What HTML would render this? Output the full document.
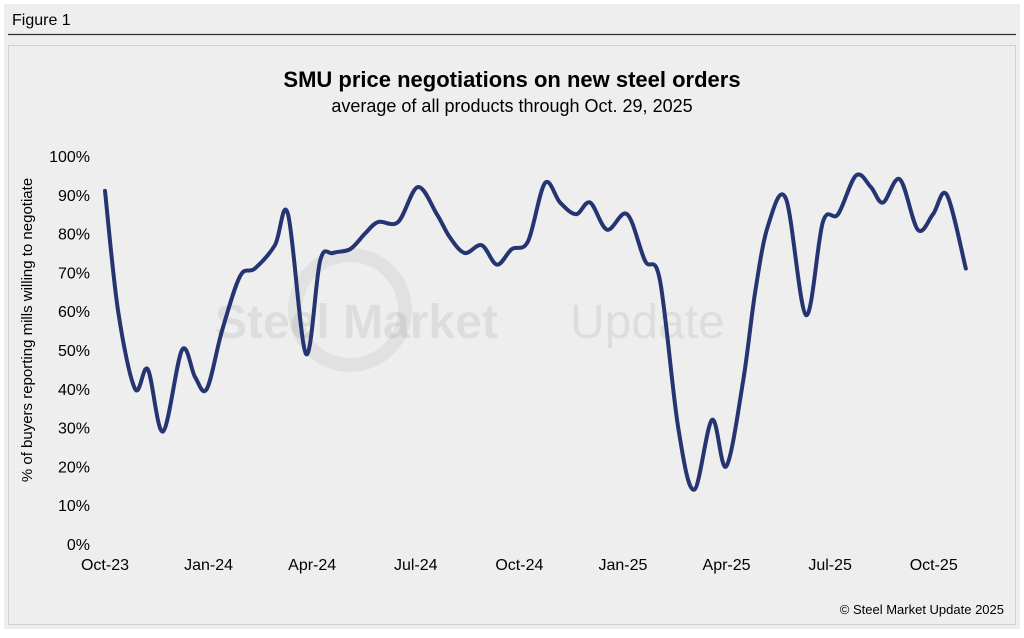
<!DOCTYPE html>
<html><head><meta charset="utf-8"><style>
body{margin:0;width:1024px;height:633px;background:#fff;font-family:"Liberation Sans",Arial,sans-serif;overflow:hidden}
</style></head><body>
<svg width="1024" height="633" xmlns="http://www.w3.org/2000/svg">
<rect x="0" y="0" width="1024" height="633" fill="#ffffff"/>
<rect x="4" y="4" width="1016" height="625" fill="#eeeeee"/>
<text x="12" y="25" font-size="16" fill="#000">Figure 1</text>
<line x1="8" y1="34.5" x2="1016" y2="34.5" stroke="#333" stroke-width="1.2"/>
<rect x="8.5" y="45.5" width="1007" height="579" fill="#eeeeee" stroke="#d0d0d0"/>
<text x="512" y="87" text-anchor="middle" font-size="22" font-weight="bold" fill="#000">SMU price negotiations on new steel orders</text>
<text x="512" y="112" text-anchor="middle" font-size="18" fill="#000">average of all products through Oct. 29, 2025</text>
<g>
<circle cx="350" cy="310" r="55" fill="none" stroke="#000" stroke-opacity="0.05" stroke-width="14"/>
<text x="215" y="338" font-size="48" font-weight="bold" fill="#000" fill-opacity="0.07">Steel Market</text>
<text x="570" y="338" font-size="48" fill="#000" fill-opacity="0.07">Update</text>
</g>
<text x="32" y="330" transform="rotate(-90 32 330)" text-anchor="middle" font-size="15" fill="#000">% of buyers reporting mills willing to negotiate</text>
<g id="yticks"></g>
<g id="xticks"></g>
<path id="line" fill="none" stroke="#263572" stroke-width="4" stroke-linejoin="round" stroke-linecap="round"/>
<text x="1004" y="614" text-anchor="end" font-size="13" fill="#000">© Steel Market Update 2025</text>
</svg>
<script>
const monthOffsets=[0,0.38,0.87,1.24,1.68,2.23,2.61,2.95,3.39,3.91,4.34,4.92,5.30,5.82,6.23,6.60,7.10,7.53,7.91,8.49,9.06,9.61,9.99,10.42,10.91,11.35,11.78,12.25,12.74,13.18,13.64,14.05,14.54,15.12,15.64,16.07,16.60,17.06,17.58,17.99,18.48,18.83,19.20,19.72,20.30,20.79,21.23,21.75,22.18,22.53,23.02,23.54,23.98,24.38,24.93];
const values=[91,60,40,45,29,50,43,40,55,69,71,77,85,49,73,75,76,80,83,83,92,85,79,75,77,72,76,78,93,88,85,88,81,85,73,68,30,14,32,20,42,65,82,89,59,83,85,95,92,88,94,81,85,90,71];
const yTickValues=[0,10,20,30,40,50,60,70,80,90,100];
const xTickLabels=["Oct-23","Jan-24","Apr-24","Jul-24","Oct-24","Jan-25","Apr-25","Jul-25","Oct-25"];
const xTickMonths=[0,3,6,9,12,15,18,21,24];
const X=m=>105+m*34.53, Y=v=>544-v*3.88;
const NS="http://www.w3.org/2000/svg";
const yg=document.getElementById('yticks');
yTickValues.forEach(v=>{const t=document.createElementNS(NS,'text');t.setAttribute('x',90);t.setAttribute('y',Y(v)+6);t.setAttribute('text-anchor','end');t.setAttribute('font-size','16');t.textContent=v+'%';


yg.appendChild(t);});
const xg=document.getElementById('xticks');
xTickLabels.forEach((l,i)=>{const t=document.createElementNS(NS,'text');t.setAttribute('x',X(xTickMonths[i]));t.setAttribute('y',570);t.setAttribute('text-anchor','middle');t.setAttribute('font-size','16');t.textContent=l;


xg.appendChild(t);});
const P=monthOffsets.map((m,i)=>[X(m),Y(values[i])]);
let d='M'+P[0][0]+','+P[0][1];
for(let i=0;i<P.length-1;i++){const p0=P[Math.max(0,i-1)],p1=P[i],p2=P[i+1],p3=P[Math.min(P.length-1,i+2)];
const c1=[p1[0]+(p2[0]-p0[0])/6,p1[1]+(p2[1]-p0[1])/6],c2=[p2[0]-(p3[0]-p1[0])/6,p2[1]-(p3[1]-p1[1])/6];
d+=' C'+c1+' '+c2+' '+p2;}
document.getElementById('line').setAttribute('d',d);
</script>
</body></html>
